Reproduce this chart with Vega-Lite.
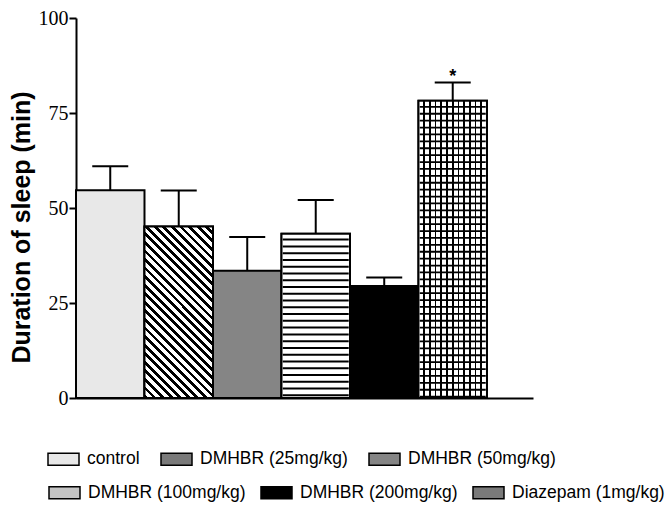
{
  "$schema": "https://vega.github.io/schema/vega-lite/v6.json",
  "width": 457,
  "height": 380,
  "autosize": "none",
  "padding": {"left": 76, "top": 18, "right": 137, "bottom": 108},
  "background": "white",
  "config": {
    "view": {"stroke": null},
    "axisY": {"labelFont": "Liberation Serif", "labelFontSize": 20, "labelColor": "black", "labelPadding": 1, "tickSize": 7, "tickWidth": 2, "tickColor": "black", "domainColor": "black", "domainWidth": 2, "grid": false}
  },
  "data": {
    "values": [
      {"group": "control", "mean": 54.7, "hi": 61.0, "sig": ""},
      {"group": "DMHBR (25mg/kg)", "mean": 45.1, "hi": 54.6, "sig": ""},
      {"group": "DMHBR (50mg/kg)", "mean": 33.5, "hi": 42.4, "sig": ""},
      {"group": "DMHBR (100mg/kg)", "mean": 43.2, "hi": 52.1, "sig": ""},
      {"group": "DMHBR (200mg/kg)", "mean": 29.5, "hi": 31.7, "sig": ""},
      {"group": "Diazepam (1mg/kg)", "mean": 78.2, "hi": 83.0, "sig": "*"}
    ]
  },
  "encoding": {
    "x": {
      "field": "group", "type": "nominal", "sort": null,
      "scale": {"domain": ["control", "DMHBR (25mg/kg)", "DMHBR (50mg/kg)", "DMHBR (100mg/kg)", "DMHBR (200mg/kg)", "Diazepam (1mg/kg)"], "paddingInner": 0, "paddingOuter": 0.336, "align": 0},
      "axis": {"title": null, "labels": false, "ticks": false, "domainColor": "black", "domainWidth": 2}
    }
  },
  "layer": [
    {
      "transform": [{"filter": "datum.group == 'control' || datum.group == 'DMHBR (25mg/kg)' || datum.group == 'DMHBR (50mg/kg)'"}],
      "mark": {"type": "bar", "stroke": "black", "strokeWidth": 2},
      "encoding": {
        "y": {
          "field": "mean", "type": "quantitative",
          "scale": {"domain": [0, 100], "nice": false},
          "axis": {
            "title": "Duration of sleep (min)",
            "titleFont": "Liberation Sans", "titleFontSize": 25, "titleFontWeight": "bold", "titleColor": "black",
            "titlePadding": 4, "titleY": 209,
            "values": [0, 25, 50, 75, 100],
            "labelFont": "Liberation Serif", "labelFontSize": 20
          }
        },
        "fill": {
          "field": "group", "type": "nominal", "sort": null,
          "scale": {
            "domain": ["control", "DMHBR (25mg/kg)", "DMHBR (50mg/kg)"],
            "range": ["#e8e8e8", "#7a7a7a", "#858585"]
          },
          "legend": {
            "title": null, "orient": "none", "legendX": -29, "legendY": 424.5,
            "direction": "horizontal", "columnPadding": 18, "padding": 0,
            "symbolType": "M-1,-0.387H1V0.387H-1Z", "symbolSize": 961,
            "symbolStrokeColor": "black", "symbolStrokeWidth": 1.5,
            "labelFont": "Liberation Sans", "labelFontSize": 17.5, "labelColor": "black", "labelOffset": 7, "labelLimit": 400
          }
        }
      }
    },
    {
      "transform": [{"filter": "datum.group == 'DMHBR (100mg/kg)' || datum.group == 'DMHBR (200mg/kg)' || datum.group == 'Diazepam (1mg/kg)'"}],
      "mark": {"type": "bar", "stroke": "black", "strokeWidth": 2},
      "encoding": {
        "y": {"field": "mean", "type": "quantitative"},
        "color": {
          "field": "group", "type": "nominal", "sort": null,
          "scale": {
            "domain": ["DMHBR (100mg/kg)", "DMHBR (200mg/kg)", "Diazepam (1mg/kg)"],
            "range": ["#c4c4c4", "#000000", "#7a7a7a"]
          },
          "legend": {
            "title": null, "orient": "none", "legendX": -28, "legendY": 458,
            "direction": "horizontal", "columnPadding": 12, "padding": 0,
            "symbolType": "M-1,-0.387H1V0.387H-1Z", "symbolSize": 961,
            "symbolStrokeColor": "black", "symbolStrokeWidth": 1.5,
            "labelFont": "Liberation Sans", "labelFontSize": 17.5, "labelColor": "black", "labelOffset": 7, "labelLimit": 400
          }
        }
      }
    },
    {
      "transform": [{"filter": "datum.group == 'DMHBR (25mg/kg)'"}],
      "mark": {
        "type": "bar", "stroke": "black", "strokeWidth": 2,
        "fill": {
          "gradient": "linear", "x1": 0, "y1": 1, "x2": 0.4824, "y2": -0.2069,
          "stops": [
            {"offset": 0, "color": "black"}, {"offset": 0.01607, "color": "black"}, {"offset": 0.01607, "color": "white"},
            {"offset": 0.03571, "color": "white"}, {"offset": 0.03571, "color": "black"}, {"offset": 0.05179, "color": "black"}, {"offset": 0.05179, "color": "white"},
            {"offset": 0.07143, "color": "white"}, {"offset": 0.07143, "color": "black"}, {"offset": 0.0875, "color": "black"}, {"offset": 0.0875, "color": "white"},
            {"offset": 0.10714, "color": "white"}, {"offset": 0.10714, "color": "black"}, {"offset": 0.12321, "color": "black"}, {"offset": 0.12321, "color": "white"},
            {"offset": 0.14286, "color": "white"}, {"offset": 0.14286, "color": "black"}, {"offset": 0.15893, "color": "black"}, {"offset": 0.15893, "color": "white"},
            {"offset": 0.17857, "color": "white"}, {"offset": 0.17857, "color": "black"}, {"offset": 0.19464, "color": "black"}, {"offset": 0.19464, "color": "white"},
            {"offset": 0.21429, "color": "white"}, {"offset": 0.21429, "color": "black"}, {"offset": 0.23036, "color": "black"}, {"offset": 0.23036, "color": "white"},
            {"offset": 0.25, "color": "white"}, {"offset": 0.25, "color": "black"}, {"offset": 0.26607, "color": "black"}, {"offset": 0.26607, "color": "white"},
            {"offset": 0.28571, "color": "white"}, {"offset": 0.28571, "color": "black"}, {"offset": 0.30179, "color": "black"}, {"offset": 0.30179, "color": "white"},
            {"offset": 0.32143, "color": "white"}, {"offset": 0.32143, "color": "black"}, {"offset": 0.3375, "color": "black"}, {"offset": 0.3375, "color": "white"},
            {"offset": 0.35714, "color": "white"}, {"offset": 0.35714, "color": "black"}, {"offset": 0.37321, "color": "black"}, {"offset": 0.37321, "color": "white"},
            {"offset": 0.39286, "color": "white"}, {"offset": 0.39286, "color": "black"}, {"offset": 0.40893, "color": "black"}, {"offset": 0.40893, "color": "white"},
            {"offset": 0.42857, "color": "white"}, {"offset": 0.42857, "color": "black"}, {"offset": 0.44464, "color": "black"}, {"offset": 0.44464, "color": "white"},
            {"offset": 0.46429, "color": "white"}, {"offset": 0.46429, "color": "black"}, {"offset": 0.48036, "color": "black"}, {"offset": 0.48036, "color": "white"},
            {"offset": 0.5, "color": "white"}, {"offset": 0.5, "color": "black"}, {"offset": 0.51607, "color": "black"}, {"offset": 0.51607, "color": "white"},
            {"offset": 0.53571, "color": "white"}, {"offset": 0.53571, "color": "black"}, {"offset": 0.55179, "color": "black"}, {"offset": 0.55179, "color": "white"},
            {"offset": 0.57143, "color": "white"}, {"offset": 0.57143, "color": "black"}, {"offset": 0.5875, "color": "black"}, {"offset": 0.5875, "color": "white"},
            {"offset": 0.60714, "color": "white"}, {"offset": 0.60714, "color": "black"}, {"offset": 0.62321, "color": "black"}, {"offset": 0.62321, "color": "white"},
            {"offset": 0.64286, "color": "white"}, {"offset": 0.64286, "color": "black"}, {"offset": 0.65893, "color": "black"}, {"offset": 0.65893, "color": "white"},
            {"offset": 0.67857, "color": "white"}, {"offset": 0.67857, "color": "black"}, {"offset": 0.69464, "color": "black"}, {"offset": 0.69464, "color": "white"},
            {"offset": 0.71429, "color": "white"}, {"offset": 0.71429, "color": "black"}, {"offset": 0.73036, "color": "black"}, {"offset": 0.73036, "color": "white"},
            {"offset": 0.75, "color": "white"}, {"offset": 0.75, "color": "black"}, {"offset": 0.76607, "color": "black"}, {"offset": 0.76607, "color": "white"},
            {"offset": 0.78571, "color": "white"}, {"offset": 0.78571, "color": "black"}, {"offset": 0.80179, "color": "black"}, {"offset": 0.80179, "color": "white"},
            {"offset": 0.82143, "color": "white"}, {"offset": 0.82143, "color": "black"}, {"offset": 0.8375, "color": "black"}, {"offset": 0.8375, "color": "white"},
            {"offset": 0.85714, "color": "white"}, {"offset": 0.85714, "color": "black"}, {"offset": 0.87321, "color": "black"}, {"offset": 0.87321, "color": "white"},
            {"offset": 0.89286, "color": "white"}, {"offset": 0.89286, "color": "black"}, {"offset": 0.90893, "color": "black"}, {"offset": 0.90893, "color": "white"},
            {"offset": 0.92857, "color": "white"}, {"offset": 0.92857, "color": "black"}, {"offset": 0.94464, "color": "black"}, {"offset": 0.94464, "color": "white"},
            {"offset": 0.96429, "color": "white"}, {"offset": 0.96429, "color": "black"}, {"offset": 0.98036, "color": "black"}, {"offset": 0.98036, "color": "white"},
            {"offset": 1, "color": "white"}
          ]
        }
      },
      "encoding": {"y": {"field": "mean", "type": "quantitative"}}
    },
    {
      "transform": [{"filter": "datum.group == 'Diazepam (1mg/kg)'"}],
      "mark": {
        "type": "bar", "stroke": "black", "strokeWidth": 2,
        "fill": {
          "gradient": "linear", "x1": 0, "y1": 0, "x2": 1, "y2": 0,
          "stops": [
            {"offset": 0, "color": "white"},
            {"offset": 0.07083, "color": "white"}, {"offset": 0.07083, "color": "black"}, {"offset": 0.09583, "color": "black"}, {"offset": 0.09583, "color": "white"},
            {"offset": 0.15417, "color": "white"}, {"offset": 0.15417, "color": "black"}, {"offset": 0.17917, "color": "black"}, {"offset": 0.17917, "color": "white"},
            {"offset": 0.2375, "color": "white"}, {"offset": 0.2375, "color": "black"}, {"offset": 0.2625, "color": "black"}, {"offset": 0.2625, "color": "white"},
            {"offset": 0.32083, "color": "white"}, {"offset": 0.32083, "color": "black"}, {"offset": 0.34583, "color": "black"}, {"offset": 0.34583, "color": "white"},
            {"offset": 0.40417, "color": "white"}, {"offset": 0.40417, "color": "black"}, {"offset": 0.42917, "color": "black"}, {"offset": 0.42917, "color": "white"},
            {"offset": 0.4875, "color": "white"}, {"offset": 0.4875, "color": "black"}, {"offset": 0.5125, "color": "black"}, {"offset": 0.5125, "color": "white"},
            {"offset": 0.57083, "color": "white"}, {"offset": 0.57083, "color": "black"}, {"offset": 0.59583, "color": "black"}, {"offset": 0.59583, "color": "white"},
            {"offset": 0.65417, "color": "white"}, {"offset": 0.65417, "color": "black"}, {"offset": 0.67917, "color": "black"}, {"offset": 0.67917, "color": "white"},
            {"offset": 0.7375, "color": "white"}, {"offset": 0.7375, "color": "black"}, {"offset": 0.7625, "color": "black"}, {"offset": 0.7625, "color": "white"},
            {"offset": 0.82083, "color": "white"}, {"offset": 0.82083, "color": "black"}, {"offset": 0.84583, "color": "black"}, {"offset": 0.84583, "color": "white"},
            {"offset": 0.90417, "color": "white"}, {"offset": 0.90417, "color": "black"}, {"offset": 0.92917, "color": "black"}, {"offset": 0.92917, "color": "white"},
            {"offset": 1, "color": "white"}
          ]
        }
      },
      "encoding": {"y": {"field": "mean", "type": "quantitative"}}
    },
    {
      "transform": [{"filter": "datum.group == 'DMHBR (100mg/kg)'"}],
      "mark": {"type": "bar", "stroke": "black", "strokeWidth": 2, "fill": "white"},
      "encoding": {"y": {"field": "mean", "type": "quantitative"}}
    },
    {
      "transform": [{"filter": "datum.group == 'DMHBR (100mg/kg)'"}],
      "mark": {"type": "rule", "color": "black", "strokeWidth": 66, "strokeDash": [2, 4.77], "strokeDashOffset": 2, "strokeCap": "butt"},
      "encoding": {"y": {"field": "mean", "type": "quantitative"}, "y2": {"datum": 0}}
    },
    {
      "transform": [{"filter": "datum.group == 'Diazepam (1mg/kg)'"}],
      "mark": {"type": "rule", "color": "black", "strokeWidth": 66, "strokeDash": [1.8, 5.1], "strokeDashOffset": 1.8, "strokeCap": "butt"},
      "encoding": {"y": {"field": "mean", "type": "quantitative"}, "y2": {"datum": 0}}
    },
    {
      "mark": {"type": "rule", "color": "black", "strokeWidth": 2},
      "encoding": {"y": {"field": "mean", "type": "quantitative"}, "y2": {"field": "hi"}}
    },
    {
      "mark": {"type": "tick", "color": "black", "size": 36, "thickness": 2, "opacity": 1},
      "encoding": {"y": {"field": "hi", "type": "quantitative"}}
    },
    {
      "mark": {"type": "text", "font": "Liberation Sans", "fontSize": 18, "fontWeight": "bold", "color": "black", "baseline": "alphabetic", "dy": -1},
      "encoding": {"y": {"field": "hi", "type": "quantitative"}, "text": {"field": "sig"}}
    }
  ]
}
